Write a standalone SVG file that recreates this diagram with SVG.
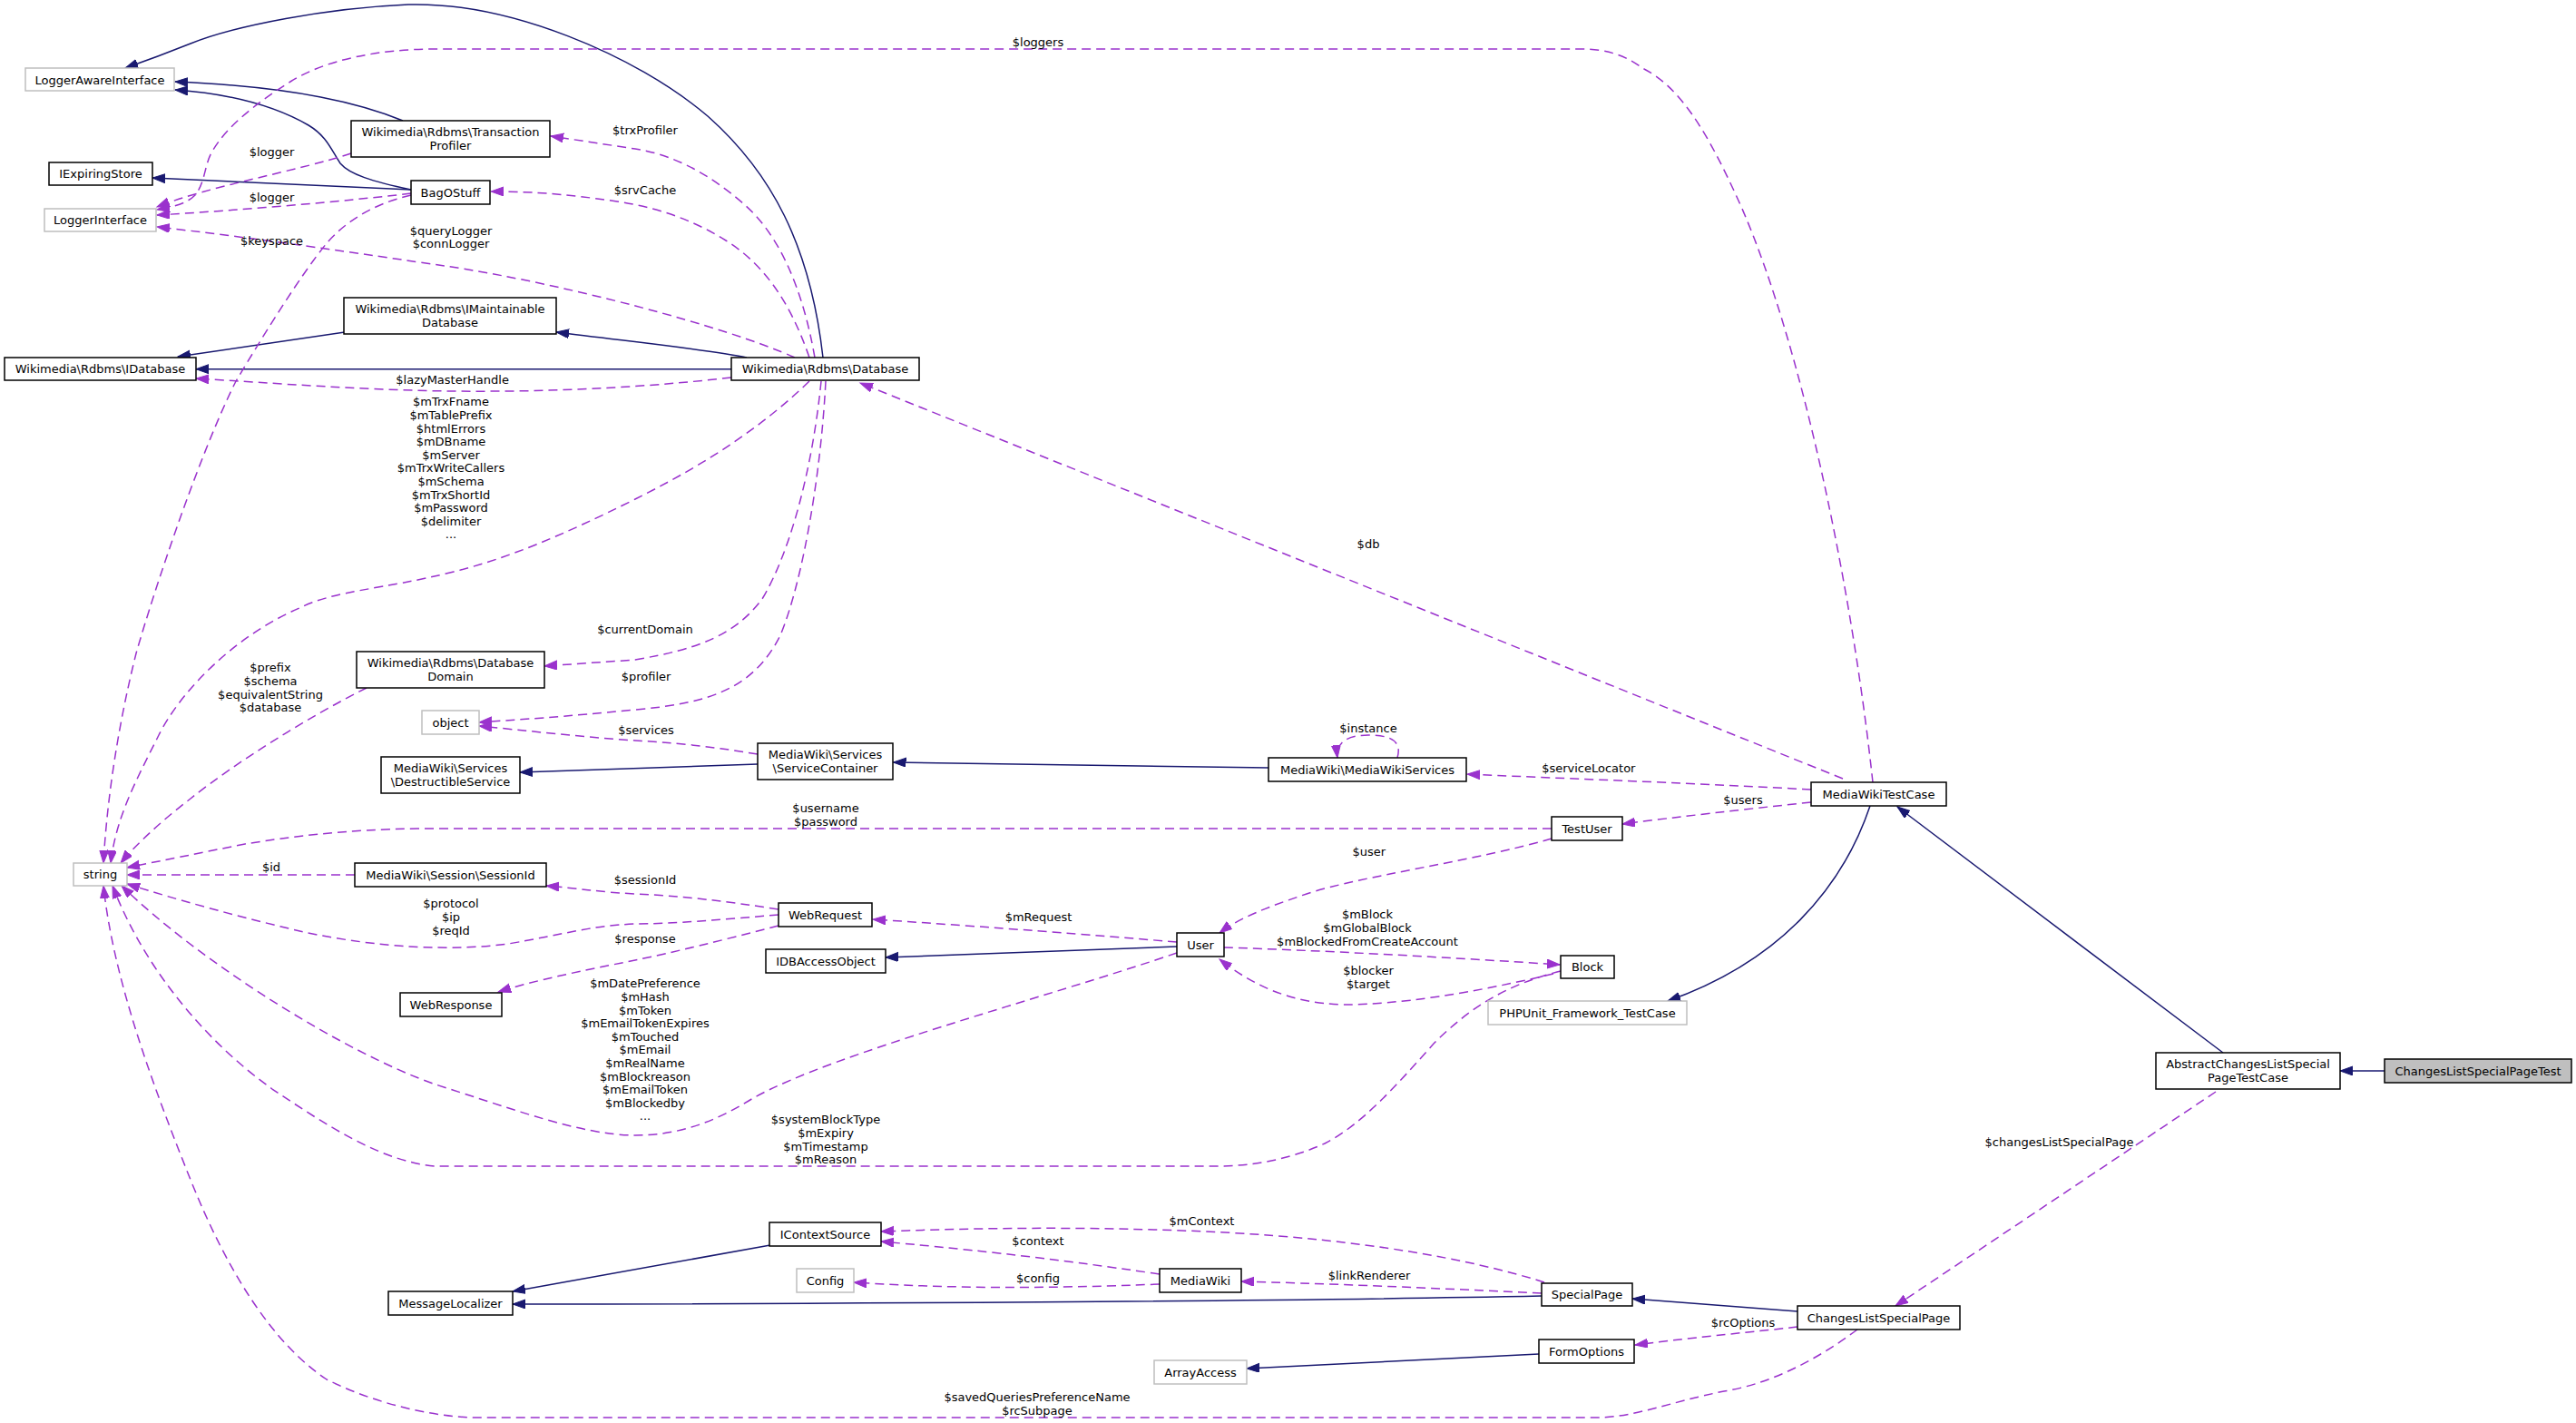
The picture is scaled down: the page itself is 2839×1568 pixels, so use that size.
<svg xmlns="http://www.w3.org/2000/svg" width="2839" height="1568" viewBox="0 0 2839 1568">
<style>
.n rect{fill:#fff;stroke:#000;stroke-width:1.5}
.n.g rect{stroke:#bfbfbf}
.n.f rect{fill:#bfbfbf}
text{font-family:"DejaVu Sans","Liberation Sans",sans-serif;font-size:13px;text-anchor:middle;fill:#000}
.inh{fill:none;stroke:#191970;stroke-width:1.5;marker-end:url(#an)}
.use{fill:none;stroke:#9a32cd;stroke-width:1.5;stroke-dasharray:10,6;marker-end:url(#ap)}
</style>
<defs>
<marker id="an" markerUnits="userSpaceOnUse" markerWidth="16" markerHeight="12" refX="14" refY="5" orient="auto"><path d="M0,0 L14,5 L0,10 z" fill="#191970" stroke="#191970" stroke-width="1"/></marker>
<marker id="ap" markerUnits="userSpaceOnUse" markerWidth="16" markerHeight="12" refX="14" refY="5" orient="auto"><path d="M0,0 L14,5 L0,10 z" fill="#9a32cd" stroke="#9a32cd" stroke-width="1"/></marker>
</defs>
<rect width="2839" height="1568" fill="#fff"/>
<g id="edges">
<path class="inh" d="M907,394 C893,270 850,190 780,128 C700,60 560,2 450,5 C360,9 260,28 210,48 C180,60 158,68 138,75"/>
<path class="inh" d="M444,133 C400,115 330,96 193,90"/>
<path class="inh" d="M453,209 C410,200 385,192 375,180 C365,165 360,150 340,138 C300,115 250,103 193,99"/>
<path class="inh" d="M453,209 L168,196"/>
<path class="inh" d="M380,366 L196,393"/>
<path class="inh" d="M823,394 C780,385 700,377 613,366"/>
<path class="inh" d="M806,406.7 L216,406.7"/>
<path class="inh" d="M835,842 L573,851"/>
<path class="inh" d="M1398,846 L984.5,840"/>
<path class="inh" d="M1297,1043 L976,1055"/>
<path class="inh" d="M2061,888 C2030,980 1960,1060 1838,1103"/>
<path class="inh" d="M2450,1160 L2091,889"/>
<path class="inh" d="M2628,1180 L2579,1180"/>
<path class="inh" d="M849,1372 L565,1423"/>
<path class="inh" d="M1699,1428 C1400,1434 900,1437 565,1437"/>
<path class="inh" d="M1981,1445 L1799,1431"/>
<path class="inh" d="M1696,1492 L1374,1508"/>

<path class="use" d="M387,169 C330,188 230,205 173,228"/>
<path class="use" d="M2064,862 C2040,640 1985,380 1920,230 C1880,140 1850,95 1810,75 C1790,60 1770,54 1740,54 L480,54 C420,54 360,65 320,90 C280,115 250,140 235,165 C225,180 227,200 215,215 C205,225 190,228 173,231"/>
<path class="use" d="M453,213 C380,222 260,232 173,237"/>
<path class="use" d="M876,394 C800,360 620,312 490,293 C400,280 280,262 173,250"/>
<path class="use" d="M898,394 C885,320 860,260 820,225 C780,190 740,170 700,164 L607,150"/>
<path class="use" d="M892,394 C870,330 840,290 800,265 C760,240 720,228 680,222 C620,213 580,211 541,211"/>
<path class="use" d="M905,420 C895,520 870,610 840,660 C810,700 770,715 700,727 L600,734"/>
<path class="use" d="M910,420 C905,520 885,640 860,700 C830,760 780,775 700,782 C620,790 570,793 528,796"/>
<path class="use" d="M806,416 C700,428 600,432 500,431 C400,430 300,422 216,417"/>
<path class="use" d="M2031,858 L948,422"/>
<path class="use" d="M892,420 C830,480 760,520 700,550 C620,590 560,615 500,630 C420,650 370,650 330,670 C260,700 200,760 175,810 C150,860 128,900 122,951"/>
<path class="use" d="M453,215 C410,225 380,245 360,268 C330,305 290,370 260,420 C220,500 170,650 150,720 C130,800 118,880 114,951"/>
<path class="use" d="M404,758 C340,790 260,840 210,880 C180,903 150,930 133,951"/>
<path class="use" d="M835,831 C780,822 740,818 700,816 C640,812 580,805 528,800"/>
<path class="use" d="M1996,870 C1850,862 1700,857 1617,853"/>
<path class="use" d="M1540,835 C1545,818 1535,810 1508,810 C1485,810 1472,818 1474,835"/>
<path class="use" d="M1996,884 C1920,892 1850,900 1788,908"/>
<path class="use" d="M1710,913 L460,913 C380,914 320,922 270,930 C220,940 180,948 140,956"/>
<path class="use" d="M1710,924 C1620,950 1500,965 1440,985 C1395,1000 1365,1012 1344,1028"/>
<path class="use" d="M1297,1038 C1200,1030 1100,1022 962,1013"/>
<path class="use" d="M858,1002 C800,993 750,987 700,985 C660,983 640,979 602,976"/>
<path class="use" d="M858,1008 C800,1013 740,1018 700,1018 C650,1020 620,1030 560,1040 C500,1048 420,1045 335,1027 C270,1012 200,993 140,974"/>
<path class="use" d="M858,1020 C800,1035 740,1050 700,1058 C640,1070 590,1080 549,1093"/>
<path class="use" d="M391,964 L140,964"/>
<path class="use" d="M1297,1050 C1150,1100 920,1160 830,1210 C790,1235 750,1251 700,1251 C640,1251 560,1220 480,1195 C380,1160 220,1060 134,976"/>
<path class="use" d="M1720,1070 C1660,1085 1620,1110 1580,1150 C1540,1195 1500,1240 1460,1260 C1420,1278 1380,1285 1340,1285 L480,1285 C420,1280 360,1240 300,1200 C230,1150 160,1070 124,976"/>
<path class="use" d="M2047,1465 C2000,1500 1950,1525 1900,1533 C1840,1545 1800,1562 1760,1562 L520,1562 C470,1560 410,1545 360,1520 C300,1480 250,1400 210,1300 C170,1200 125,1080 114,976"/>
<path class="use" d="M1981,1462 C1930,1468 1880,1472 1802,1482"/>
<path class="use" d="M1702,1413 C1620,1387 1500,1366 1350,1358 C1230,1352 1100,1352 971,1357"/>
<path class="use" d="M1278,1404 C1150,1385 1050,1375 971,1368"/>
<path class="use" d="M1278,1415 C1150,1420 1050,1420 941,1413"/>
<path class="use" d="M1699,1425 C1550,1418 1450,1414 1368,1412"/>
<path class="use" d="M2442,1203 L2089,1439"/>
<path class="use" d="M1349,1044 C1450,1047 1600,1055 1719,1063"/>
<path class="use" d="M1712,1073 C1620,1095 1540,1107 1480,1107 C1420,1105 1380,1085 1344,1057"/>
</g>
<g id="labels">
<text x="1144" y="51.4">$loggers</text>
<text x="711" y="148.2">$trxProfiler</text>
<text x="711" y="214.2">$srvCache</text>
<text x="299.5" y="172.4">$logger</text>
<text x="299.5" y="222.4">$logger</text>
<text x="299.5" y="270.4">$keyspace</text>
<text x="497" y="258.7">$queryLogger</text>
<text x="497" y="273.4">$connLogger</text>
<text x="498.6" y="423">$lazyMasterHandle</text>
<text x="497" y="447.4">$mTrxFname</text>
<text x="497" y="462">$mTablePrefix</text>
<text x="497" y="476.6">$htmlErrors</text>
<text x="497" y="491.2">$mDBname</text>
<text x="497" y="505.8">$mServer</text>
<text x="497" y="520.4">$mTrxWriteCallers</text>
<text x="497" y="535">$mSchema</text>
<text x="497" y="549.6">$mTrxShortId</text>
<text x="497" y="564.2">$mPassword</text>
<text x="497" y="578.8">$delimiter</text>
<text x="497" y="593.4">...</text>
<text x="1508" y="603.7">$db</text>
<text x="711" y="698">$currentDomain</text>
<text x="712" y="750.4">$profiler</text>
<text x="712" y="808.7">$services</text>
<text x="298" y="740.4">$prefix</text>
<text x="298" y="755">$schema</text>
<text x="298" y="769.6">$equivalentString</text>
<text x="298" y="784.2">$database</text>
<text x="1508" y="807.4">$instance</text>
<text x="1750.8" y="851.4">$serviceLocator</text>
<text x="1921" y="886.4">$users</text>
<text x="910" y="895.4">$username</text>
<text x="910" y="910">$password</text>
<text x="1508.7" y="943.4">$user</text>
<text x="299" y="959.7">$id</text>
<text x="711" y="974.4">$sessionId</text>
<text x="497" y="1000.4">$protocol</text>
<text x="497" y="1015">$ip</text>
<text x="497" y="1029.6">$reqId</text>
<text x="711" y="1038.7">$response</text>
<text x="1144.5" y="1015.4">$mRequest</text>
<text x="1507" y="1012.4">$mBlock</text>
<text x="1507" y="1027">$mGlobalBlock</text>
<text x="1507" y="1041.6">$mBlockedFromCreateAccount</text>
<text x="1508" y="1074">$blocker</text>
<text x="1508" y="1088.6">$target</text>
<text x="711" y="1088.4">$mDatePreference</text>
<text x="711" y="1103">$mHash</text>
<text x="711" y="1117.6">$mToken</text>
<text x="711" y="1132.2">$mEmailTokenExpires</text>
<text x="711" y="1146.8">$mTouched</text>
<text x="711" y="1161.4">$mEmail</text>
<text x="711" y="1176">$mRealName</text>
<text x="711" y="1190.6">$mBlockreason</text>
<text x="711" y="1205.2">$mEmailToken</text>
<text x="711" y="1219.8">$mBlockedby</text>
<text x="711" y="1234.4">...</text>
<text x="910" y="1238.4">$systemBlockType</text>
<text x="910" y="1253">$mExpiry</text>
<text x="910" y="1267.6">$mTimestamp</text>
<text x="910" y="1282.2">$mReason</text>
<text x="2269.5" y="1263.4">$changesListSpecialPage</text>
<text x="1324.5" y="1350">$mContext</text>
<text x="1144" y="1371.7">$context</text>
<text x="1144" y="1412.7">$config</text>
<text x="1509" y="1410.4">$linkRenderer</text>
<text x="1921" y="1462.4">$rcOptions</text>
<text x="1143" y="1544.4">$savedQueriesPreferenceName</text>
<text x="1143" y="1559">$rcSubpage</text>
</g>
<g id="n_LoggerAwareInterface" class="n g"><rect x="28" y="75" width="164" height="25"/><text x="110" y="92.5">LoggerAwareInterface</text></g>
<g id="n_TransactionProfiler" class="n"><rect x="387" y="133" width="219" height="40"/><text x="496.5" y="150.3">Wikimedia\Rdbms\Transaction</text><text x="496.5" y="165">Profiler</text></g>
<g id="n_IExpiringStore" class="n"><rect x="54" y="179" width="114" height="25"/><text x="111" y="196.2">IExpiringStore</text></g>
<g id="n_BagOStuff" class="n"><rect x="453" y="199" width="87" height="26"/><text x="496.5" y="216.7">BagOStuff</text></g>
<g id="n_LoggerInterface" class="n g"><rect x="49" y="230" width="123" height="25"/><text x="110.5" y="247.2">LoggerInterface</text></g>
<g id="n_IMaintainableDatabase" class="n"><rect x="379" y="328" width="234" height="40"/><text x="496" y="345.4">Wikimedia\Rdbms\IMaintainable</text><text x="496" y="360.1">Database</text></g>
<g id="n_IDatabase" class="n"><rect x="5" y="394" width="211" height="25"/><text x="110.5" y="411.2">Wikimedia\Rdbms\IDatabase</text></g>
<g id="n_Database" class="n"><rect x="806" y="394" width="207" height="25"/><text x="909.5" y="411.2">Wikimedia\Rdbms\Database</text></g>
<g id="n_DatabaseDomain" class="n"><rect x="393" y="718" width="207" height="40"/><text x="496.5" y="735.4">Wikimedia\Rdbms\Database</text><text x="496.5" y="750.1">Domain</text></g>
<g id="n_object" class="n g"><rect x="465" y="783" width="63" height="26"/><text x="496.5" y="800.7">object</text></g>
<g id="n_DestructibleService" class="n"><rect x="420" y="834" width="153" height="40"/><text x="496.5" y="851.4">MediaWiki\Services</text><text x="496.5" y="866.1">\DestructibleService</text></g>
<g id="n_ServiceContainer" class="n"><rect x="835" y="819" width="149" height="40"/><text x="909.5" y="836.4">MediaWiki\Services</text><text x="909.5" y="851.1">\ServiceContainer</text></g>
<g id="n_MediaWikiServices" class="n"><rect x="1398" y="835" width="218" height="26"/><text x="1507" y="852.7">MediaWiki\MediaWikiServices</text></g>
<g id="n_string" class="n g"><rect x="81" y="951" width="59" height="25"/><text x="110.5" y="968.2">string</text></g>
<g id="n_SessionId" class="n"><rect x="391" y="951" width="211" height="26"/><text x="496.5" y="968.7">MediaWiki\Session\SessionId</text></g>
<g id="n_WebRequest" class="n"><rect x="858" y="995" width="103" height="26"/><text x="909.5" y="1012.7">WebRequest</text></g>
<g id="n_WebResponse" class="n"><rect x="441" y="1094" width="112" height="26"/><text x="497" y="1111.7">WebResponse</text></g>
<g id="n_IDBAccessObject" class="n"><rect x="844" y="1046" width="132" height="26"/><text x="910" y="1063.7">IDBAccessObject</text></g>
<g id="n_User" class="n"><rect x="1297" y="1028" width="52" height="26"/><text x="1323" y="1045.7">User</text></g>
<g id="n_TestUser" class="n"><rect x="1710" y="900" width="78" height="26"/><text x="1749" y="917.7">TestUser</text></g>
<g id="n_Block" class="n"><rect x="1720" y="1053" width="59" height="25"/><text x="1749.5" y="1070.2">Block</text></g>
<g id="n_PHPUnit" class="n g"><rect x="1640" y="1103" width="219" height="26"/><text x="1749.5" y="1120.7">PHPUnit_Framework_TestCase</text></g>
<g id="n_MediaWikiTestCase" class="n"><rect x="1996" y="862" width="149" height="26"/><text x="2070.5" y="879.7">MediaWikiTestCase</text></g>
<g id="n_AbstractChangesListSpecialPageTestCase" class="n"><rect x="2376" y="1160" width="203" height="40"/><text x="2477.5" y="1177.4">AbstractChangesListSpecial</text><text x="2477.5" y="1192.1">PageTestCase</text></g>
<g id="n_ChangesListSpecialPageTest" class="n f"><rect x="2628" y="1167" width="206" height="26"/><text x="2731" y="1184.7">ChangesListSpecialPageTest</text></g>
<g id="n_IContextSource" class="n"><rect x="848" y="1347" width="123" height="26"/><text x="909.5" y="1364.7">IContextSource</text></g>
<g id="n_Config" class="n g"><rect x="878" y="1398" width="63" height="26"/><text x="909.5" y="1415.7">Config</text></g>
<g id="n_MediaWiki" class="n"><rect x="1278" y="1398" width="90" height="26"/><text x="1323" y="1415.7">MediaWiki</text></g>
<g id="n_MessageLocalizer" class="n"><rect x="428" y="1423" width="137" height="26"/><text x="496.5" y="1440.7">MessageLocalizer</text></g>
<g id="n_SpecialPage" class="n"><rect x="1699" y="1414" width="100" height="25"/><text x="1749" y="1431.2">SpecialPage</text></g>
<g id="n_ChangesListSpecialPage" class="n"><rect x="1981" y="1439" width="179" height="26"/><text x="2070.5" y="1456.7">ChangesListSpecialPage</text></g>
<g id="n_FormOptions" class="n"><rect x="1696" y="1476" width="105" height="26"/><text x="1748.5" y="1493.7">FormOptions</text></g>
<g id="n_ArrayAccess" class="n g"><rect x="1272" y="1499" width="102" height="26"/><text x="1323" y="1516.7">ArrayAccess</text></g>
</svg>
